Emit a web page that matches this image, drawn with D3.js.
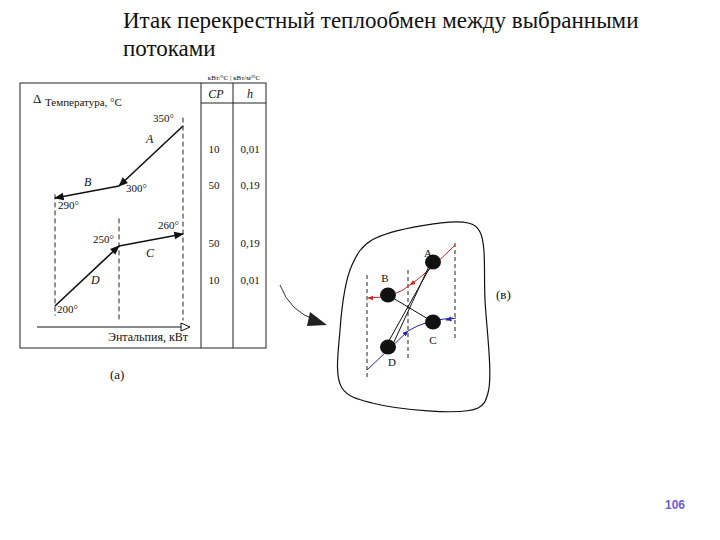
<!DOCTYPE html>
<html><head><meta charset="utf-8">
<script src="https://d3js.org/d3.v7.min.js"></script>
<style>
 body { margin:0; background:#fff; }
 text { font-family: "Liberation Serif", "DejaVu Serif", serif; fill:#111; }
</style></head>
<body>
<svg id="c" width="720" height="540"></svg>
<script>
  // streams: name, [enthalpy from, T from], [enthalpy to, T to]
  var streams = ["A", "B", "C", "D"];
  var streamFrom = [[2, 350], [1, 300], [1, 250], [0, 200]];
  var streamTo   = [[1, 300], [0, 290], [2, 260], [1, 250]];
  var tempLabels = [350, 300, 290, 260, 250, 200];
  var cpValues = [10, 50, 50, 10];
  var hValues = ["0,01", "0,19", "0,19", "0,01"];
  var tableTemps = [335, 305, 257, 226]; // row positions in temperature units

  var svg = d3.select("#c");
  var x = d3.scaleLinear().domain([0, 2]).range([55, 183]);
  var y = d3.scaleLinear().domain([200, 350]).range([306, 126]);

  svg.append("defs").html(
    '<marker id="ar" viewBox="0 0 10 10" refX="9" refY="5" markerWidth="7" markerHeight="6" orient="auto"><path d="M0,1L10,5L0,9z" fill="#111"/></marker>' +
    '<marker id="arR" viewBox="0 0 10 10" refX="9" refY="5" markerWidth="6" markerHeight="6" orient="auto"><path d="M0,1L10,5L0,9z" fill="#d22"/></marker>' +
    '<marker id="arB" viewBox="0 0 10 10" refX="9" refY="5" markerWidth="6" markerHeight="6" orient="auto"><path d="M0,1L10,5L0,9z" fill="#22a"/></marker>');

  // title
  svg.append("text").attr("x", 123).attr("y", 28).style("font-size", "23px").text("Итак перекрестный теплообмен между выбранными");
  svg.append("text").attr("x", 123).attr("y", 56).style("font-size", "23px").text("потоками");

  // panel (a)
  svg.append("rect").attr("x", 20).attr("y", 83).attr("width", 246).attr("height", 265).attr("fill", "none").attr("stroke", "#222");
  svg.append("line").attr("x1", 201).attr("x2", 201).attr("y1", 83).attr("y2", 348).attr("stroke", "#222");
  svg.append("line").attr("x1", 233).attr("x2", 233).attr("y1", 83).attr("y2", 348).attr("stroke", "#222");
  svg.append("line").attr("x1", 201).attr("x2", 266).attr("y1", 103).attr("y2", 103).attr("stroke", "#222");
  svg.append("text").attr("x", 234).attr("y", 80).attr("text-anchor", "middle").style("font-size", "7px").text("кВт/°C | кВт/м²°C");
  svg.append("text").attr("x", 216).attr("y", 98).attr("text-anchor", "middle").style("font-size", "12px").style("font-style", "italic").text("CP");
  svg.append("text").attr("x", 250).attr("y", 98).attr("text-anchor", "middle").style("font-size", "12px").style("font-style", "italic").text("h");
  tableTemps.forEach(function (t, i) {
    svg.append("text").attr("x", 214).attr("y", y(t) + 9).attr("text-anchor", "middle").style("font-size", "11px").text(cpValues[i]);
    svg.append("text").attr("x", 250).attr("y", y(t) + 9).attr("text-anchor", "middle").style("font-size", "11px").text(hValues[i]);
  });

  // dashed verticals
  [[0, 293, 192], [1, 273, 188], [2, 357, 188]].forEach(function (d) {
    svg.append("line").attr("x1", x(d[0])).attr("x2", x(d[0])).attr("y1", y(d[1])).attr("y2", y(d[2]))
      .attr("stroke", "#222").attr("stroke-dasharray", "5,3");
  });

  streams.forEach(function (s, i) {
    svg.append("line").attr("x1", x(streamFrom[i][0])).attr("y1", y(streamFrom[i][1]))
      .attr("x2", x(streamTo[i][0])).attr("y2", y(streamTo[i][1]))
      .attr("stroke", "#111").attr("stroke-width", 1.6).attr("marker-end", "url(#ar)");
  });
  var lblPos = {A: [146, 143], B: [84, 186], C: [146, 257], D: [91, 284]};
  streams.forEach(function (s) {
    svg.append("text").attr("x", lblPos[s][0]).attr("y", lblPos[s][1]).style("font-size", "12px").style("font-style", "italic").text(s);
  });
  var tPos = {350: [153, 0, -4], 300: [126, 0, 6], 290: [58, 0, 11], 260: [158, 0, -5], 250: [93, 0, -3], 200: [57, 0, 7]};
  tempLabels.forEach(function (t) {
    svg.append("text").attr("x", tPos[t][0]).attr("y", y(t) + tPos[t][2]).style("font-size", "11px").text(t + "°");
  });

  svg.append("line").attr("x1", 37).attr("x2", 181).attr("y1", 327).attr("y2", 327).attr("stroke", "#111");
  svg.append("path").attr("d", "M181,323L190,327L181,331z").attr("fill", "#fff").attr("stroke", "#111");
  svg.append("text").attr("x", 148).attr("y", 341).attr("text-anchor", "middle").style("font-size", "12px").text("Энтальпия, кВт");
  svg.append("text").attr("x", 33).attr("y", 103).style("font-size", "13px").text("Δ");
  svg.append("text").attr("x", 45).attr("y", 106).style("font-size", "11px").text("Температура, °C");
  svg.append("text").attr("x", 110).attr("y", 379).style("font-size", "13px").text("(а)");

  // curved arrow
  svg.append("path").attr("d", "M280,285 Q290,312 316,320").attr("fill", "none").attr("stroke", "#333");
  svg.append("path").attr("d", "M310,312L327,325L307,326z").attr("fill", "#222");

  // panel (b)
  var blob = [[372, 240], [468, 223], [480, 232], [485, 300], [488, 393], [478, 408], [372, 403], [342, 388], [340, 330], [352, 265]];
  svg.append("path").attr("d", d3.line().curve(d3.curveCatmullRomClosed.alpha(0.5))(blob)).attr("fill", "none").attr("stroke", "#111").attr("stroke-width", 1.2);
  [[367, 275, 380], [408, 270, 358], [455, 243, 340]].forEach(function (d) {
    svg.append("line").attr("x1", d[0]).attr("x2", d[0]).attr("y1", d[1]).attr("y2", d[2]).attr("stroke", "#222").attr("stroke-dasharray", "4,3");
  });
  var nodes = {A: [433, 262], B: [388, 295], C: [433, 322], D: [388, 347]};
  svg.append("path").attr("d", "M455,245 Q425,275 410,285").attr("fill", "none").attr("stroke", "#d22").attr("marker-end", "url(#arR)");
  svg.append("path").attr("d", "M410,285 Q395,298 368,298").attr("fill", "none").attr("stroke", "#d22").attr("marker-end", "url(#arR)");
  svg.append("path").attr("d", "M367,370 L408,331").attr("fill", "none").attr("stroke", "#22a").attr("marker-end", "url(#arB)");
  svg.append("path").attr("d", "M408,331 Q425,320 453,318").attr("fill", "none").attr("stroke", "#22a");
  svg.append("path").attr("d", "M456,318 L446,320").attr("stroke", "#22a").attr("marker-end", "url(#arB)");
  svg.append("line").attr("x1", 433).attr("y1", 262).attr("x2", 386).attr("y2", 346).attr("stroke", "#111");
  svg.append("line").attr("x1", 430).attr("y1", 264).attr("x2", 393).attr("y2", 344).attr("stroke", "#111");
  svg.append("line").attr("x1", 388).attr("y1", 295).attr("x2", 433).attr("y2", 322).attr("stroke", "#111");
  Object.keys(nodes).forEach(function (k) {
    svg.append("ellipse").attr("cx", nodes[k][0]).attr("cy", nodes[k][1]).attr("rx", 8).attr("ry", 7.5).attr("fill", "#111");
  });
  var nl = {A: [428, 257], B: [385, 282], C: [433, 344], D: [392, 366]};
  Object.keys(nl).forEach(function (k) {
    svg.append("text").attr("x", nl[k][0]).attr("y", nl[k][1]).attr("text-anchor", "middle").style("font-size", "11px").text(k);
  });
  svg.append("text").attr("x", 496).attr("y", 299).style("font-size", "13px").text("(в)");

  svg.append("text").attr("x", 665).attr("y", 509).style("font-family", "Liberation Sans, Arial, sans-serif")
    .style("font-size", "12px").style("font-weight", "bold").style("fill", "#6b5bd6").text("106");
</script>
</body></html>
